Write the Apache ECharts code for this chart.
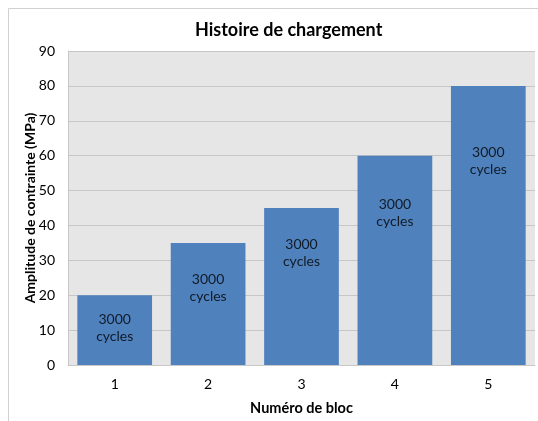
<!DOCTYPE html>
<html><head><meta charset="utf-8">
<script src="https://cdn.jsdelivr.net/npm/echarts@6/dist/echarts.min.js"></script>
<style>html,body{margin:0;padding:0;background:#fff}#c{width:538px;height:421px}</style>
</head><body><div id="c"></div>
<script>
var titleText = "Histoire de chargement";
var xName = "Numéro de bloc";
var yName = "Amplitude de contrainte (MPa)";
var categories = ["1", "2", "3", "4", "5"];
var values = [20, 35, 45, 60, 80];
var barText = "3000\ncycles";
var labelValues = [10.5, 22, 32, 43.5, 58.5];

var FONT = "Lato";
var chart = echarts.init(document.getElementById('c'), null, {renderer: 'canvas'});
chart.setOption({
  animation: false,
  backgroundColor: '#fff',
  textStyle: {fontFamily: FONT},
  title: {text: titleText, left: 190, top: 16, textStyle: {fontFamily: FONT, fontWeight: 'bold', fontSize: 18, color: '#000'}},
  graphic: [{type: 'rect', shape: {x: 8.5, y: 8.5, width: 560, height: 440}, style: {fill: 'none', stroke: '#d0d0d0', lineWidth: 1}, silent: true, z: -10}],
  grid: {left: 68, right: 3, top: 51, bottom: 56, backgroundColor: '#e6e6e6', show: true, borderWidth: 0},
  xAxis: {type: 'category', data: categories,
    name: xName, nameLocation: 'middle', nameGap: 36,
    nameTextStyle: {fontFamily: FONT, fontWeight: 'bold', fontSize: 14.5, color: '#000'},
    axisLine: {lineStyle: {color: '#c8c8c8'}}, axisTick: {show: false},
    axisLabel: {color: '#000', fontSize: 14, margin: 12, fontFamily: FONT}},
  yAxis: {type: 'value', min: 0, max: 90, interval: 10,
    name: yName, nameLocation: 'middle', nameGap: 31, nameRotate: 90, nameMoveOverlap: false,
    nameTextStyle: {fontFamily: FONT, fontWeight: 'bold', fontSize: 14, color: '#000'},
    axisLine: {show: true, lineStyle: {color: '#c8c8c8'}}, axisTick: {show: false},
    splitLine: {lineStyle: {color: '#c6c6c6'}},
    axisLabel: {color: '#000', fontSize: 14, margin: 13, fontFamily: FONT}},
  series: [
    {type: 'bar', data: values, barCategoryGap: '20%', itemStyle: {color: '#4f81bd'}, z: 2},
    {type: 'scatter', data: labelValues, symbolSize: 1, itemStyle: {color: 'rgba(0,0,0,0)'}, z: 3, silent: true,
      label: {show: true, position: 'inside', formatter: barText, color: '#000', fontSize: 14, lineHeight: 17, fontFamily: FONT}}
  ]
});
</script></body></html>
